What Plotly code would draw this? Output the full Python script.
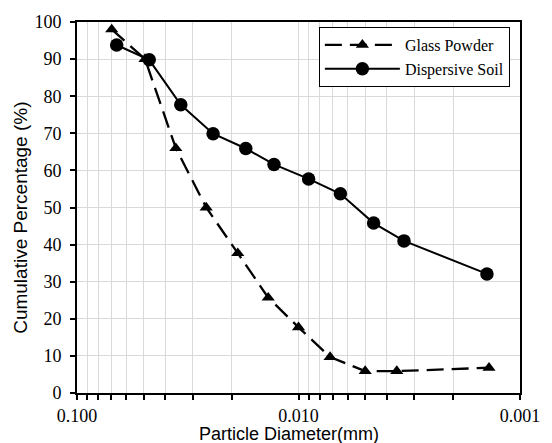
import plotly.graph_objects as go

# Particle size distribution (hydrometer + sieve)
glass_diam = [0.0697, 0.0493, 0.0358, 0.0261, 0.0188, 0.0137, 0.0100, 0.0072, 0.0050, 0.0036, 0.00138]
glass_pct = [98.0, 90.0, 66.0, 50.0, 37.7, 25.7, 17.7, 9.7, 5.9, 5.9, 6.8]

soil_diam = [0.0662, 0.0472, 0.0340, 0.0243, 0.0173, 0.0129, 0.0090, 0.00647, 0.00458, 0.00334, 0.00141]
soil_pct = [93.8, 89.8, 77.7, 69.9, 65.9, 61.6, 57.7, 53.7, 45.8, 41.0, 32.1]

x_tick_vals = [0.1, 0.01, 0.001]
x_tick_text = ["0.100", "0.010", "0.001"]
y_tick_vals = list(range(0, 101, 10))

minor_vals = [k * 10.0 ** e for e in (-2, -3) for k in range(2, 10)]

SERIF = "Liberation Serif, Times New Roman, serif"
SANS = "Liberation Sans, Arial, sans-serif"

fig = go.Figure()
fig.add_trace(go.Scatter(
    x=glass_diam, y=glass_pct, name="Glass Powder", mode="lines+markers",
    line=dict(color="black", width=2.3, dash="17px,8px"),
    marker=dict(symbol="triangle-up", size=11.5, color="black"),
))
fig.add_trace(go.Scatter(
    x=soil_diam, y=soil_pct, name="Dispersive Soil", mode="lines+markers",
    line=dict(color="black", width=2),
    marker=dict(symbol="circle", size=13.5, color="black"),
))

fig.update_layout(
    width=552, height=443,
    margin=dict(l=77, r=21, t=20, b=50),
    paper_bgcolor="white", plot_bgcolor="white",
    font=dict(family=SERIF, size=18, color="black"),
    showlegend=True,
    legend=dict(
        x=0.546, y=1.0 - 5 / 373, xanchor="left", yanchor="top",
        bgcolor="white", bordercolor="black", borderwidth=1,
        font=dict(family=SERIF, size=16, color="black"),
        itemwidth=75, tracegroupgap=0,
    ),
    xaxis=dict(
        type="log", range=[-1, -3],
        tickmode="array", tickvals=x_tick_vals, ticktext=x_tick_text,
        ticks="outside", ticklen=5, tickwidth=1.5, tickcolor="black",
        showline=True, linecolor="black", linewidth=2, mirror=True,
        showgrid=True, gridcolor="#d9d9d9", gridwidth=1,
        zeroline=False,
        minor=dict(tickvals=minor_vals, ticks="outside", ticklen=5, tickwidth=1.5,
                   tickcolor="black", showgrid=True, gridcolor="#d9d9d9", gridwidth=1),
        tickfont=dict(family=SERIF, size=18),
    ),
    yaxis=dict(
        range=[0, 100], tickmode="array", tickvals=y_tick_vals,
        ticks="outside", ticklen=5, tickwidth=1.5, tickcolor="black",
        showline=True, linecolor="black", linewidth=2, mirror=True,
        showgrid=True, gridcolor="#d9d9d9", gridwidth=1,
        zeroline=False,
        tickfont=dict(family=SERIF, size=18),
        ticklabelstandoff=5,
    ),
    annotations=[
        dict(text="Particle Diameter(mm)", xref="paper", yref="paper",
             x=0.478, y=-0.11, xanchor="center", yanchor="middle", showarrow=False,
             font=dict(family=SANS, size=18, color="black")),
        dict(text="Cumulative Percentage (%)", xref="paper", yref="paper",
             x=-0.128, y=0.473, xanchor="center", yanchor="middle", showarrow=False,
             textangle=-90, font=dict(family=SANS, size=19, color="black")),
    ],
)

fig.write_html("out.html")
